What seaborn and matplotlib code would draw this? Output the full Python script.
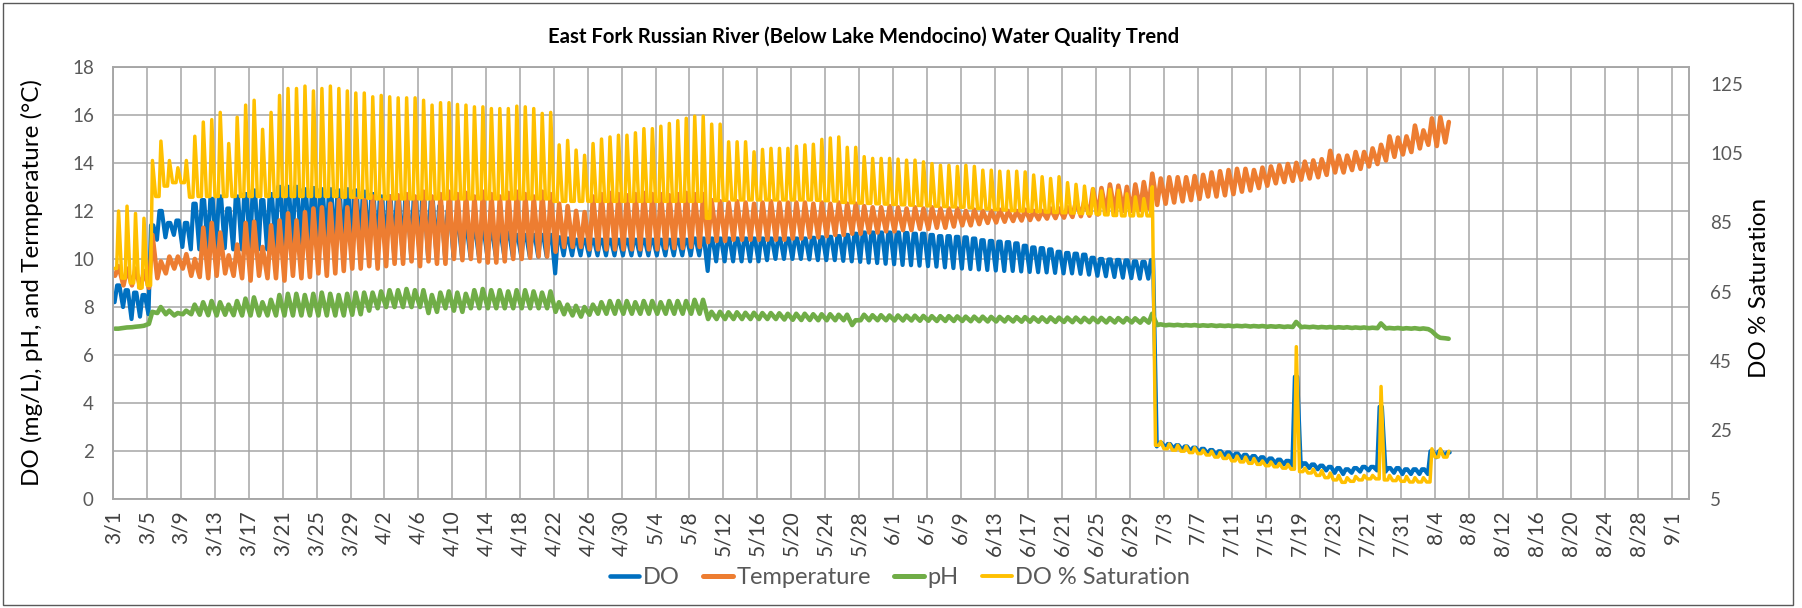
import numpy as np
import pandas as pd
import matplotlib
matplotlib.use("Agg")
import matplotlib.pyplot as plt
import seaborn as sns
from matplotlib.patches import Rectangle
from matplotlib.lines import Line2D

TITLE = "East Fork Russian River (Below Lake Mendocino) Water Quality Trend"
LEFT_LABEL = "DO (mg/L), pH, and Termperature (°C)"
RIGHT_LABEL = "DO % Saturation"
SERIES = ["DO", "Temperature", "pH", "DO % Saturation"]

DATE_LABELS = ["3/1", "3/5", "3/9", "3/13", "3/17", "3/21", "3/25", "3/29", "4/2", "4/6",
               "4/10", "4/14", "4/18", "4/22", "4/26", "4/30", "5/4", "5/8", "5/12", "5/16",
               "5/20", "5/24", "5/28", "6/1", "6/5", "6/9", "6/13", "6/17", "6/21", "6/25",
               "6/29", "7/3", "7/7", "7/11", "7/15", "7/19", "7/23", "7/27", "7/31", "8/4",
               "8/8", "8/12", "8/16", "8/20", "8/24", "8/28", "9/1"]
LEFT_TICKS = [0, 2, 4, 6, 8, 10, 12, 14, 16, 18]
RIGHT_TICKS = [5, 25, 45, 65, 85, 105, 125]

# daily readings (one morning value and one afternoon value per day, from 3/1)
DO_AM = [8.2, 8.0, 7.5, 7.6, 7.7, 10.8, 10.9, 11.0, 10.5, 10.4,
         10.4, 10.4, 10.4, 10.45, 10.4, 10.4, 10.4, 10.4, 10.4, 10.45,
         10.5, 10.5, 10.5, 10.5, 10.45, 10.4, 10.35, 10.3, 10.3, 10.3,
         10.25, 10.2, 10.2, 10.15, 10.15, 10.15, 10.15, 10.1, 10.1, 10.1,
         10.1, 10.1, 10.1, 10.1, 10.1, 10.1, 10.1, 10.1, 10.1, 10.1,
         10.1, 10.1, 9.4, 10.15, 10.15, 10.15, 10.15, 10.15, 10.15, 10.15,
         10.15, 10.15, 10.15, 10.15, 10.15, 10.15, 10.15, 10.15, 10.15, 10.15,
         9.5, 9.9, 9.9, 9.9, 9.9, 9.9, 9.9, 9.95, 10.0, 10.0,
         10.0, 10.0, 9.98, 9.95, 9.95, 9.95, 9.92, 9.9, 9.88, 9.85,
         9.83, 9.8, 9.78, 9.75, 9.74, 9.72, 9.7, 9.68, 9.65, 9.62,
         9.6, 9.58, 9.56, 9.54, 9.52, 9.5, 9.5, 9.48, 9.46, 9.45,
         9.44, 9.42, 9.4, 9.4, 9.38, 9.35, 9.3, 9.28, 9.25, 9.22,
         9.2, 9.18, 9.18, 2.2, 2.15, 2.1, 2.05, 2.0, 1.95, 1.9,
         1.85, 1.8, 1.75, 1.7, 1.65, 1.6, 1.55, 1.5, 1.45, 1.4,
         1.35, 1.3, 1.25, 1.2, 1.1, 1.05, 1.1, 1.15, 1.2, 1.2,
         1.15, 1.1, 1.05, 1.05, 1.05, 1.05, 1.75, 1.8]
DO_PM = [8.9, 8.7, 8.6, 8.5, 11.4, 12.0, 11.5, 11.6, 11.5, 12.3,
         12.45, 12.5, 12.6, 12.1, 12.6, 12.7, 12.85, 12.45, 12.7, 13.0,
         13.0, 13.0, 12.9, 12.95, 12.9, 12.9, 12.85, 12.9, 12.85, 12.8,
         12.7, 12.6, 12.6, 12.55, 12.5, 12.5, 12.45, 12.4, 12.2, 12.0,
         11.5, 11.3, 11.2, 11.2, 11.1, 11.1, 11.1, 11.0, 11.0, 11.0,
         11.0, 11.0, 10.9, 10.85, 10.8, 10.8, 10.8, 10.8, 10.8, 10.8,
         10.8, 10.8, 10.8, 10.8, 10.8, 10.8, 10.8, 10.8, 10.85, 10.85,
         10.85, 10.85, 10.85, 10.85, 10.85, 10.85, 10.85, 10.85, 10.85, 10.85,
         10.85, 10.85, 10.88, 10.9, 10.92, 10.95, 11.0, 11.05, 11.1, 11.1,
         11.1, 11.1, 11.1, 11.08, 11.05, 11.05, 11.0, 10.95, 10.95, 10.92,
         10.9, 10.85, 10.78, 10.75, 10.72, 10.7, 10.65, 10.55, 10.48, 10.45,
         10.4, 10.3, 10.25, 10.22, 10.18, 10.05, 10.0, 9.98, 9.96, 9.94,
         9.9, 9.88, 9.95, 2.35, 2.3, 2.25, 2.2, 2.15, 2.1, 2.05,
         2.0, 1.95, 1.9, 1.85, 1.8, 1.75, 1.7, 1.65, 1.6, 5.1,
         1.5, 1.45, 1.4, 1.35, 1.3, 1.25, 1.3, 1.35, 1.35, 3.85,
         1.3, 1.3, 1.25, 1.25, 1.25, 2.0, 2.0, 1.95]

TEMP_AM = [9.3, 8.9, 8.9, 8.8, 8.8, 9.2, 9.4, 9.6, 9.6, 9.3,
           9.25, 9.2, 9.3, 9.4, 9.3, 9.2, 9.1, 9.3, 9.2, 9.2,
           9.1, 9.3, 9.2, 9.25, 9.4, 9.3, 9.4, 9.5, 9.6, 9.6,
           9.7, 9.6, 9.7, 9.8, 9.8, 9.9, 9.7, 9.9, 9.8, 9.8,
           10.0, 9.95, 10.0, 9.9, 9.85, 9.85, 9.9, 10.0, 10.0, 10.05,
           10.1, 10.1, 10.3, 10.5, 10.5, 10.5, 10.4, 10.4, 10.4, 10.4,
           10.4, 10.4, 10.4, 10.4, 10.4, 10.45, 10.45, 10.45, 10.5, 10.5,
           10.7, 10.75, 10.75, 10.8, 10.8, 10.8, 10.8, 10.8, 10.8, 10.8,
           10.85, 10.85, 10.9, 10.9, 10.95, 11.0, 11.0, 11.05, 11.05, 11.1,
           11.1, 11.15, 11.15, 11.2, 11.2, 11.25, 11.25, 11.3, 11.3, 11.35,
           11.4, 11.4, 11.45, 11.5, 11.52, 11.55, 11.58, 11.6, 11.62, 11.65,
           11.68, 11.7, 11.72, 11.75, 11.78, 11.8, 11.85, 11.9, 11.95, 12.0,
           12.0, 12.05, 12.1, 12.25, 12.3, 12.35, 12.4, 12.45, 12.5, 12.6,
           12.6, 12.65, 12.7, 12.8, 12.85, 12.95, 13.05, 13.15, 13.2, 13.25,
           13.3, 13.35, 13.4, 13.5, 13.6, 13.6, 13.7, 13.75, 13.85, 13.95,
           14.1, 14.25, 14.35, 14.45, 14.6, 14.75, 14.7, 14.85]
TEMP_PM = [9.7, 9.6, 9.6, 9.5, 11.0, 9.9, 10.1, 10.1, 10.2, 10.0,
           11.3, 11.5, 11.1, 10.15, 10.6, 11.5, 11.55, 10.5, 11.4, 11.6,
           11.9, 11.6, 11.95, 12.1, 12.15, 12.3, 12.45, 12.15, 12.5, 12.45,
           12.6, 12.45, 12.6, 12.65, 12.7, 12.6, 12.8, 12.6, 12.7, 12.8,
           12.7, 12.75, 12.6, 12.8, 12.7, 12.6, 12.75, 12.8, 12.7, 12.6,
           12.8, 12.7, 12.3, 12.2, 12.0, 11.95, 12.6, 12.7, 12.75, 12.7,
           12.65, 12.7, 12.75, 12.7, 12.7, 12.65, 12.7, 12.75, 12.7, 12.7,
           12.45, 12.4, 12.35, 12.4, 12.35, 12.3, 12.35, 12.4, 12.35, 12.35,
           12.35, 12.35, 12.3, 12.35, 12.3, 12.35, 12.3, 12.3, 12.2, 12.15,
           12.15, 12.2, 12.15, 12.1, 12.15, 12.1, 12.15, 12.1, 12.1, 12.1,
           12.0, 12.05, 12.0, 12.0, 12.05, 12.0, 12.0, 12.05, 12.0, 12.0,
           12.1, 12.1, 12.15, 12.4, 12.45, 12.9, 12.95, 13.1, 13.05, 13.0,
           13.1, 13.2, 13.55, 13.35, 13.4, 13.4, 13.4, 13.45, 13.5, 13.6,
           13.65, 13.7, 13.75, 13.75, 13.7, 13.8, 13.85, 13.9, 13.95, 14.0,
           14.05, 14.1, 14.15, 14.5, 14.3, 14.3, 14.45, 14.45, 14.6, 14.75,
           15.1, 15.05, 15.1, 15.55, 15.35, 15.85, 15.9, 15.7]

PH_AM = [7.1, 7.13, 7.16, 7.2, 7.3, 7.75, 7.7, 7.65, 7.7, 7.7,
         7.68, 7.66, 7.65, 7.68, 7.66, 7.65, 7.65, 7.65, 7.65, 7.65,
         7.65, 7.65, 7.65, 7.65, 7.65, 7.65, 7.65, 7.65, 7.68, 7.7,
         7.85, 7.95, 8.0, 8.0, 8.0, 8.0, 8.0, 7.75, 7.8, 7.95,
         7.85, 7.8, 7.95, 7.95, 7.95, 7.95, 7.95, 7.95, 7.95, 7.95,
         7.95, 7.95, 7.8, 7.7, 7.65, 7.6, 7.68, 7.72, 7.72, 7.72,
         7.72, 7.72, 7.72, 7.72, 7.72, 7.72, 7.72, 7.72, 7.72, 7.72,
         7.5, 7.5, 7.5, 7.5, 7.5, 7.5, 7.5, 7.5, 7.5, 7.48,
         7.47, 7.46, 7.46, 7.45, 7.45, 7.45, 7.45, 7.25, 7.45, 7.45,
         7.45, 7.45, 7.44, 7.44, 7.44, 7.43, 7.43, 7.42, 7.42, 7.42,
         7.42, 7.41, 7.41, 7.4, 7.4, 7.4, 7.4, 7.39, 7.39, 7.39,
         7.38, 7.38, 7.38, 7.37, 7.37, 7.37, 7.37, 7.36, 7.36, 7.36,
         7.36, 7.35, 7.35, 7.25, 7.24, 7.24, 7.23, 7.23, 7.22, 7.22,
         7.21, 7.21, 7.2, 7.2, 7.19, 7.19, 7.18, 7.18, 7.17, 7.17,
         7.16, 7.16, 7.15, 7.15, 7.14, 7.14, 7.13, 7.13, 7.12, 7.12,
         7.11, 7.11, 7.1, 7.1, 7.09, 7.08, 6.8, 6.7]
PH_PM = [7.1, 7.15, 7.18, 7.22, 7.8, 8.0, 7.85, 7.75, 7.85, 8.1,
         8.2, 8.25, 8.2, 8.1, 8.25, 8.35, 8.4, 8.2, 8.3, 8.5,
         8.55, 8.55, 8.5, 8.55, 8.6, 8.55, 8.5, 8.55, 8.6, 8.6,
         8.6, 8.65, 8.7, 8.7, 8.75, 8.7, 8.7, 8.5, 8.6, 8.65,
         8.6, 8.55, 8.7, 8.75, 8.7, 8.7, 8.65, 8.7, 8.7, 8.65,
         8.6, 8.65, 8.2, 8.1, 8.05, 8.0, 8.1, 8.2, 8.25, 8.25,
         8.25, 8.2, 8.25, 8.25, 8.2, 8.25, 8.25, 8.25, 8.3, 8.3,
         7.8, 7.8, 7.78, 7.78, 7.76, 7.76, 7.75, 7.75, 7.74, 7.72,
         7.72, 7.72, 7.7, 7.7, 7.7, 7.68, 7.68, 7.45, 7.68, 7.66,
         7.66, 7.65, 7.65, 7.64, 7.64, 7.63, 7.62, 7.62, 7.62, 7.61,
         7.6, 7.6, 7.6, 7.59, 7.59, 7.58, 7.58, 7.58, 7.57, 7.57,
         7.57, 7.56, 7.56, 7.56, 7.55, 7.55, 7.55, 7.54, 7.54, 7.54,
         7.53, 7.53, 7.72, 7.28, 7.26, 7.26, 7.25, 7.25, 7.24, 7.24,
         7.23, 7.23, 7.22, 7.22, 7.21, 7.21, 7.2, 7.2, 7.19, 7.38,
         7.18, 7.18, 7.17, 7.17, 7.16, 7.16, 7.15, 7.15, 7.14, 7.32,
         7.13, 7.13, 7.12, 7.12, 7.11, 7.0, 6.72, 6.68]

SAT_AM = [71.7, 68.9, 67.5, 66.1, 66.8, 92.5, 95.5, 96.5, 96.5, 92.3,
          92.5, 92.5, 92.5, 92.5, 92.5, 92.5, 92.5, 92.5, 92.5, 92.5,
          92.5, 92.5, 92.5, 92.5, 92.5, 92.5, 92.5, 92.3, 92.3, 92.2,
          92.0, 91.8, 91.8, 91.8, 91.8, 91.8, 91.8, 91.8, 91.8, 91.8,
          91.8, 91.8, 91.8, 91.8, 91.8, 91.8, 91.8, 91.8, 91.8, 91.8,
          91.8, 91.8, 91.1, 91.1, 91.1, 91.1, 91.1, 91.1, 91.1, 91.1,
          91.1, 91.1, 91.1, 91.1, 91.1, 91.1, 91.1, 91.1, 91.1, 91.1,
          86.2, 91.3, 91.4, 91.5, 91.5, 91.5, 91.5, 91.5, 91.5, 91.5,
          91.5, 91.5, 91.5, 91.4, 91.3, 91.2, 90.8, 90.7, 90.6, 90.5,
          90.4, 90.3, 90.2, 90.1, 90.0, 89.9, 89.8, 89.7, 89.6, 89.5,
          89.4, 89.2, 89.0, 88.9, 88.7, 88.6, 88.4, 88.3, 88.2, 88.1,
          88.0, 87.9, 87.8, 87.7, 87.6, 87.5, 87.4, 87.2, 87.0, 86.9,
          86.9, 86.9, 86.9, 20.6, 19.6, 19.2, 18.9, 18.5, 18.2, 17.8,
          17.2, 16.8, 16.1, 15.8, 15.4, 15.1, 14.7, 14.4, 14.0, 13.7,
          13.0, 12.6, 11.9, 11.25, 10.6, 9.9, 10.2, 10.6, 10.9, 10.9,
          10.6, 10.4, 10.2, 10.0, 10.0, 10.0, 17.2, 17.2]
SAT_PM = [88.3, 89.7, 87.6, 86.2, 102.9, 108.5, 102.9, 100.8, 102.9, 109.9,
          114.0, 114.7, 116.8, 107.8, 115.4, 118.9, 120.3, 111.9, 116.8, 121.7,
          123.7, 123.7, 124.4, 123.0, 123.7, 124.4, 123.7, 123.0, 122.4, 122.4,
          121.3, 121.7, 121.3, 121.0, 121.0, 121.0, 120.3, 118.9, 119.6, 119.6,
          119.1, 118.9, 118.4, 118.4, 117.9, 117.9, 117.9, 118.6, 118.4, 117.9,
          116.5, 116.8, 107.4, 108.7, 105.9, 104.4, 107.8, 109.1, 109.7, 110.2,
          110.2, 110.9, 112.1, 112.1, 112.8, 113.6, 114.4, 115.1, 115.7, 115.7,
          113.4, 113.4, 108.3, 108.3, 108.3, 105.4, 106.1, 106.4, 106.4, 106.4,
          107.0, 107.4, 107.6, 109.0, 109.4, 109.7, 106.7, 106.7, 104.0, 103.5,
          103.5, 103.5, 103.3, 103.0, 103.0, 102.5, 102.0, 101.5, 101.5, 101.2,
          101.5, 101.2, 100.1, 100.1, 99.8, 99.8, 99.8, 99.6, 98.7, 98.2,
          97.7, 98.2, 96.5, 96.0, 95.5, 94.8, 94.1, 94.6, 94.3, 93.3,
          92.4, 91.9, 95.3, 21.7, 21.0, 20.6, 20.3, 19.9, 19.2, 18.9,
          18.5, 17.8, 17.5, 17.2, 16.8, 16.1, 15.8, 15.4, 15.1, 49.1,
          14.0, 13.7, 13.3, 12.6, 11.9, 11.25, 11.6, 11.9, 11.9, 37.6,
          11.9, 11.6, 11.6, 11.25, 11.25, 19.6, 19.6, 18.9]

COLORS = {"DO": "#0070C0", "Temperature": "#ED7D31", "pH": "#70AD47",
          "DO % Saturation": "#FFC000"}


def daily_frame(am, pm, pattern):
    """Place each day's morning/afternoon readings at fixed times of that day."""
    t, v = [], []
    for d, (a, p) in enumerate(zip(am, pm)):
        for frac, which in pattern:
            t.append(d + frac)
            v.append(a if which == "am" else p)
    return pd.DataFrame({"day": t, "value": v})


sns.set_theme(style="white")
plt.rcParams["font.family"] = ["Lato", "DejaVu Sans"]

W, H = 1802, 608
fig = plt.figure(figsize=(W / 100, H / 100), dpi=100)
L, R, T, B = 113.3, 1689.3, 66.7, 499.3
ax = fig.add_axes([L / W, 1 - B / H, (R - L) / W, (B - T) / H])
ax2 = ax.twinx()

frames = {
    "DO": daily_frame(DO_AM, DO_PM, [(0.15, "am"), (0.45, "pm"), (0.72, "pm")]),
    "Temperature": daily_frame(TEMP_AM, TEMP_PM, [(0.2, "am"), (0.62, "pm")]),
    "pH": daily_frame(PH_AM, PH_PM, [(0.2, "am"), (0.6, "pm")]),
    "DO % Saturation": daily_frame(SAT_AM, SAT_PM, [(0.0, "am"), (0.4, "am"), (0.62, "pm")]),
}
widths = {"DO": 3.0, "Temperature": 3.3, "pH": 3.3, "DO % Saturation": 2.5}

for name in ["DO", "Temperature", "pH"]:
    sns.lineplot(data=frames[name], x="day", y="value", ax=ax, color=COLORS[name],
                 lw=widths[name], sort=False, estimator=None, legend=False,
                 solid_joinstyle="round", solid_capstyle="round")
sns.lineplot(data=frames["DO % Saturation"], x="day", y="value", ax=ax2,
             color=COLORS["DO % Saturation"], lw=widths["DO % Saturation"], sort=False,
             estimator=None, legend=False, solid_joinstyle="round", solid_capstyle="round")

grid_c = "#A6A6A6"
text_c = "#595959"
ax.set_xlim(0, 186)
ax.set_ylim(0, 18)
ax2.set_ylim(5, 130)
ax.set_xticks(np.arange(0, 4 * len(DATE_LABELS), 4))
ax.set_xticklabels(DATE_LABELS, rotation=90)
ax.set_yticks(LEFT_TICKS)
ax.set_yticklabels([str(v) for v in LEFT_TICKS])
ax2.set_yticks(RIGHT_TICKS)
ax2.set_yticklabels([str(v) for v in RIGHT_TICKS])
ax.grid(True, color=grid_c, lw=1.1)
ax.set_axisbelow(True)
ax2.grid(False)
for a in (ax, ax2):
    a.set_xlabel("")
    a.set_ylabel("")
    for s in a.spines.values():
        s.set_color(grid_c)
        s.set_linewidth(1.1)
ax.tick_params(axis="x", length=0, pad=8, labelsize=15, labelcolor="#404040")
ax.tick_params(axis="y", length=0, pad=14, labelsize=13.5, labelcolor=text_c)
ax2.tick_params(axis="y", length=0, pad=15, labelsize=13.5, labelcolor=text_c)

fig.text(864 / W, 1 - 37 / H, TITLE, ha="center", va="center", fontsize=14.6,
         fontweight="bold", color="black")
fig.text(32 / W, 1 - 283 / H, LEFT_LABEL, rotation=90, ha="center", va="center",
         fontsize=17.5, color="black")
fig.text(1760 / W, 1 - 288 / H, RIGHT_LABEL, rotation=90, ha="center", va="center",
         fontsize=17.5, color="black")

handles = [Line2D([], [], color=COLORS[n], lw=widths[n] + 0.3, solid_capstyle="round")
           for n in SERIES]
fig.legend(handles, SERIES, loc="center", bbox_to_anchor=(900 / W, 1 - 578 / H),
           ncol=4, frameon=False, fontsize=17, handlelength=1.25, handletextpad=0.15,
           columnspacing=1.0, labelcolor=text_c)

fig.add_artist(Rectangle((3 / W, 3 / H), (1793 - 3) / W, (605 - 3) / H,
                         transform=fig.transFigure, fill=False, edgecolor="#595959", lw=1.0))

fig.savefig("out.png", dpi=100)
